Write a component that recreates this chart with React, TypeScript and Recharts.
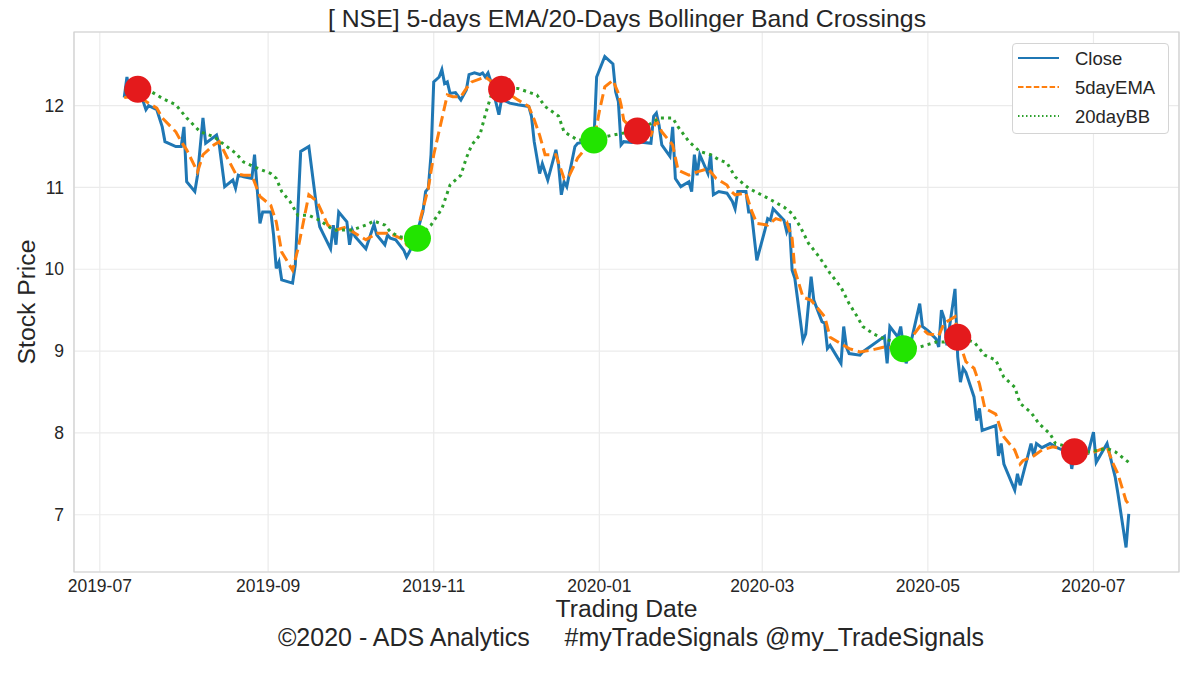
import React from 'react';
import {
  ComposedChart,
  Line,
  Scatter,
  XAxis,
  YAxis,
  CartesianGrid,
  Legend,
  ReferenceArea,
} from 'recharts';

type Pt = [string, number];

// Closing price
const closeSeries: Pt[] = [
  ['2019-07-10', 12.10], ['2019-07-11', 12.35], ['2019-07-12', 12.15], ['2019-07-15', 12.22], ['2019-07-16', 12.10],
  ['2019-07-17', 12.05], ['2019-07-18', 11.95], ['2019-07-19', 12.00], ['2019-07-22', 11.95], ['2019-07-24', 11.74],
  ['2019-07-25', 11.56], ['2019-07-29', 11.50], ['2019-07-31', 11.50], ['2019-08-01', 11.74], ['2019-08-02', 11.07],
  ['2019-08-05', 10.95], ['2019-08-06', 11.15], ['2019-08-08', 11.85], ['2019-08-09', 11.54], ['2019-08-13', 11.64],
  ['2019-08-14', 11.52], ['2019-08-16', 11.01], ['2019-08-19', 11.09], ['2019-08-20', 10.99], ['2019-08-21', 11.15],
  ['2019-08-23', 11.13], ['2019-08-26', 11.11], ['2019-08-27', 11.40], ['2019-08-28', 10.97], ['2019-08-29', 10.56],
  ['2019-08-30', 10.70], ['2019-09-02', 10.70], ['2019-09-03', 10.42], ['2019-09-04', 10.01], ['2019-09-05', 10.09],
  ['2019-09-06', 9.87], ['2019-09-10', 9.83], ['2019-09-11', 10.05], ['2019-09-13', 11.44], ['2019-09-16', 11.50],
  ['2019-09-19', 10.72], ['2019-09-20', 10.52], ['2019-09-24', 10.25], ['2019-09-25', 10.54], ['2019-09-26', 10.30],
  ['2019-09-27', 10.70], ['2019-09-30', 10.58], ['2019-10-01', 10.30], ['2019-10-02', 10.48], ['2019-10-03', 10.40],
  ['2019-10-07', 10.25], ['2019-10-10', 10.55], ['2019-10-11', 10.42], ['2019-10-14', 10.30], ['2019-10-15', 10.42],
  ['2019-10-16', 10.38], ['2019-10-18', 10.36], ['2019-10-21', 10.23], ['2019-10-22', 10.15], ['2019-10-23', 10.21],
  ['2019-10-25', 10.35], ['2019-10-28', 10.70], ['2019-10-29', 10.95], ['2019-10-30', 10.99], ['2019-10-31', 11.40],
  ['2019-11-01', 12.29], ['2019-11-03', 12.35], ['2019-11-04', 12.44], ['2019-11-05', 12.27], ['2019-11-06', 12.29],
  ['2019-11-07', 12.15], ['2019-11-09', 12.16], ['2019-11-11', 12.07], ['2019-11-13', 12.19], ['2019-11-14', 12.38],
  ['2019-11-16', 12.40], ['2019-11-18', 12.38], ['2019-11-19', 12.40], ['2019-11-20', 12.35], ['2019-11-21', 12.40],
  ['2019-11-22', 12.30], ['2019-11-25', 11.89], ['2019-11-26', 12.08], ['2019-11-29', 12.03], ['2019-12-02', 12.01],
  ['2019-12-06', 11.99], ['2019-12-07', 11.87], ['2019-12-08', 11.56], ['2019-12-10', 11.17], ['2019-12-11', 11.29],
  ['2019-12-13', 11.09], ['2019-12-16', 11.46], ['2019-12-17', 11.27], ['2019-12-18', 10.91], ['2019-12-19', 11.07],
  ['2019-12-20', 11.01], ['2019-12-23', 11.50], ['2019-12-24', 11.54], ['2019-12-30', 11.58], ['2019-12-31', 12.35],
  ['2020-01-03', 12.60], ['2020-01-06', 12.51], ['2020-01-07', 12.17], ['2020-01-08', 12.05], ['2020-01-09', 11.52],
  ['2020-01-10', 11.56], ['2020-01-13', 11.55], ['2020-01-15', 11.56], ['2020-01-20', 11.54], ['2020-01-21', 11.87],
  ['2020-01-22', 11.91], ['2020-01-23', 11.76], ['2020-01-24', 11.52], ['2020-01-27', 11.38], ['2020-01-28', 11.74],
  ['2020-01-29', 11.11], ['2020-01-31', 11.01], ['2020-02-03', 11.07], ['2020-02-04', 10.95], ['2020-02-05', 11.40],
  ['2020-02-06', 11.15], ['2020-02-07', 11.40], ['2020-02-10', 11.17], ['2020-02-11', 11.40], ['2020-02-12', 10.91],
  ['2020-02-14', 10.95], ['2020-02-17', 10.93], ['2020-02-19', 10.83], ['2020-02-20', 10.74], ['2020-02-21', 10.95],
  ['2020-02-24', 10.95], ['2020-02-25', 10.70], ['2020-02-26', 10.70], ['2020-02-28', 10.11], ['2020-03-02', 10.48],
  ['2020-03-03', 10.62], ['2020-03-04', 10.60], ['2020-03-05', 10.74], ['2020-03-09', 10.60], ['2020-03-10', 10.46],
  ['2020-03-11', 10.56], ['2020-03-12', 9.99], ['2020-03-13', 9.89], ['2020-03-16', 9.13], ['2020-03-17', 9.21],
  ['2020-03-19', 9.91], ['2020-03-20', 9.62], ['2020-03-23', 9.36], ['2020-03-24', 9.34], ['2020-03-25', 9.03],
  ['2020-03-26', 9.07], ['2020-03-30', 8.85], ['2020-03-31', 9.30], ['2020-04-01', 9.05], ['2020-04-02', 8.97],
  ['2020-04-06', 8.95], ['2020-04-07', 8.99], ['2020-04-15', 9.18], ['2020-04-16', 8.85], ['2020-04-17', 9.30],
  ['2020-04-20', 9.17], ['2020-04-21', 9.30], ['2020-04-22', 9.05], ['2020-04-23', 8.85], ['2020-04-28', 9.58],
  ['2020-04-29', 9.30], ['2020-05-01', 9.25], ['2020-05-04', 9.15], ['2020-05-05', 9.05], ['2020-05-06', 9.50],
  ['2020-05-07', 9.40], ['2020-05-08', 9.07], ['2020-05-11', 9.76], ['2020-05-12', 8.93], ['2020-05-13', 8.62],
  ['2020-05-14', 8.79], ['2020-05-15', 8.74], ['2020-05-18', 8.44], ['2020-05-19', 8.15], ['2020-05-20', 8.30],
  ['2020-05-21', 8.03], ['2020-05-26', 8.09], ['2020-05-27', 7.72], ['2020-05-28', 7.87], ['2020-05-29', 7.62],
  ['2020-06-02', 7.30], ['2020-06-03', 7.50], ['2020-06-04', 7.36], ['2020-06-08', 7.87], ['2020-06-09', 7.72],
  ['2020-06-10', 7.87], ['2020-06-12', 7.82], ['2020-06-15', 7.87], ['2020-06-17', 7.83], ['2020-06-19', 7.80],
  ['2020-06-22', 7.80], ['2020-06-23', 7.56], ['2020-06-24', 7.77], ['2020-06-29', 7.75], ['2020-07-01', 8.01],
  ['2020-07-02', 7.64], ['2020-07-06', 7.87], ['2020-07-09', 7.46], ['2020-07-10', 7.26], ['2020-07-13', 6.60],
  ['2020-07-14', 7.01],
];

// 5-day EMA
const emaSeries: Pt[] = [
  ['2019-07-10', 12.10], ['2019-07-15', 12.12], ['2019-07-19', 12.03], ['2019-07-22', 11.97], ['2019-07-24', 11.85],
  ['2019-07-29', 11.68], ['2019-07-31', 11.56], ['2019-08-02', 11.46], ['2019-08-06', 11.19], ['2019-08-08', 11.40],
  ['2019-08-12', 11.52], ['2019-08-14', 11.56], ['2019-08-17', 11.36], ['2019-08-20', 11.17], ['2019-08-23', 11.15],
  ['2019-08-26', 11.15], ['2019-08-29', 10.89], ['2019-09-02', 10.78], ['2019-09-04', 10.58], ['2019-09-06', 10.21],
  ['2019-09-10', 9.99], ['2019-09-12', 10.25], ['2019-09-16', 10.91], ['2019-09-19', 10.83], ['2019-09-23', 10.54],
  ['2019-09-26', 10.48], ['2019-09-30', 10.52], ['2019-10-02', 10.46], ['2019-10-07', 10.36], ['2019-10-11', 10.44],
  ['2019-10-15', 10.44], ['2019-10-17', 10.42], ['2019-10-21', 10.36], ['2019-10-22', 10.30], ['2019-10-25', 10.35],
  ['2019-10-30', 10.99], ['2019-11-01', 11.40], ['2019-11-06', 12.13], ['2019-11-08', 12.11], ['2019-11-11', 12.11],
  ['2019-11-13', 12.21], ['2019-11-15', 12.29], ['2019-11-20', 12.35], ['2019-11-26', 12.20], ['2019-12-02', 12.07],
  ['2019-12-06', 11.99], ['2019-12-08', 11.83], ['2019-12-10', 11.64], ['2019-12-12', 11.40], ['2019-12-16', 11.40],
  ['2019-12-19', 11.11], ['2019-12-21', 11.15], ['2019-12-24', 11.36], ['2019-12-27', 11.48], ['2019-12-30', 11.58],
  ['2020-01-01', 11.93], ['2020-01-03', 12.23], ['2020-01-06', 12.31], ['2020-01-08', 12.15], ['2020-01-09', 12.01],
  ['2020-01-10', 11.82], ['2020-01-13', 11.72], ['2020-01-15', 11.69], ['2020-01-20', 11.64], ['2020-01-22', 11.82],
  ['2020-01-24', 11.68], ['2020-01-28', 11.52], ['2020-01-30', 11.21], ['2020-02-03', 11.15], ['2020-02-06', 11.19],
  ['2020-02-10', 11.23], ['2020-02-13', 11.11], ['2020-02-17', 11.03], ['2020-02-18', 10.97], ['2020-02-20', 10.91],
  ['2020-02-24', 10.93], ['2020-02-26', 10.72], ['2020-02-28', 10.56], ['2020-03-03', 10.54], ['2020-03-06', 10.62],
  ['2020-03-10', 10.58], ['2020-03-12', 10.38], ['2020-03-13', 9.99], ['2020-03-16', 9.66], ['2020-03-19', 9.62],
  ['2020-03-20', 9.58], ['2020-03-24', 9.42], ['2020-03-26', 9.17], ['2020-03-30', 9.09], ['2020-04-02', 9.03],
  ['2020-04-06', 8.99], ['2020-04-10', 9.01], ['2020-04-15', 9.05], ['2020-04-22', 9.03], ['2020-04-28', 9.30],
  ['2020-05-01', 9.21], ['2020-05-05', 9.19], ['2020-05-07', 9.34], ['2020-05-11', 9.42], ['2020-05-12', 9.17],
  ['2020-05-15', 8.87], ['2020-05-18', 8.79], ['2020-05-20', 8.60], ['2020-05-22', 8.30], ['2020-05-26', 8.23],
  ['2020-05-28', 8.03], ['2020-05-29', 7.95], ['2020-06-02', 7.79], ['2020-06-04', 7.62], ['2020-06-05', 7.66],
  ['2020-06-09', 7.72], ['2020-06-12', 7.79], ['2020-06-16', 7.83], ['2020-06-24', 7.77], ['2020-06-30', 7.75],
  ['2020-07-03', 7.79], ['2020-07-06', 7.83], ['2020-07-08', 7.64], ['2020-07-10', 7.50], ['2020-07-13', 7.17],
  ['2020-07-14', 7.13],
];

// 20-day Bollinger mid band
const bbSeries: Pt[] = [
  ['2019-07-10', 12.19], ['2019-07-19', 12.19], ['2019-07-24', 12.09], ['2019-07-29', 12.01], ['2019-08-02', 11.85],
  ['2019-08-07', 11.68], ['2019-08-12', 11.62], ['2019-08-16', 11.52], ['2019-08-20', 11.42], ['2019-08-23', 11.31],
  ['2019-08-27', 11.25], ['2019-09-02', 11.17], ['2019-09-04', 11.11], ['2019-09-06', 10.95], ['2019-09-09', 10.83],
  ['2019-09-12', 10.66], ['2019-09-16', 10.66], ['2019-09-20', 10.60], ['2019-09-25', 10.48], ['2019-10-02', 10.48],
  ['2019-10-07', 10.54], ['2019-10-10', 10.59], ['2019-10-14', 10.54], ['2019-10-16', 10.46], ['2019-10-19', 10.40],
  ['2019-10-23', 10.38], ['2019-10-26', 10.38], ['2019-10-31', 10.54], ['2019-11-04', 10.74], ['2019-11-07', 11.03],
  ['2019-11-11', 11.15], ['2019-11-13', 11.36], ['2019-11-15', 11.52], ['2019-11-18', 11.64], ['2019-11-20', 11.89],
  ['2019-11-22', 12.11], ['2019-11-26', 12.20], ['2019-12-02', 12.21], ['2019-12-09', 12.13], ['2019-12-12', 11.99],
  ['2019-12-17', 11.87], ['2019-12-19', 11.68], ['2019-12-24', 11.58], ['2019-12-30', 11.58], ['2020-01-03', 11.62],
  ['2020-01-09', 11.66], ['2020-01-15', 11.69], ['2020-01-21', 11.80], ['2020-01-23', 11.85], ['2020-01-28', 11.85],
  ['2020-01-30', 11.74], ['2020-02-03', 11.56], ['2020-02-07', 11.44], ['2020-02-11', 11.40], ['2020-02-14', 11.34],
  ['2020-02-17', 11.30], ['2020-02-20', 11.13], ['2020-02-25', 10.99], ['2020-03-03', 10.87], ['2020-03-09', 10.76],
  ['2020-03-12', 10.68], ['2020-03-15', 10.52], ['2020-03-18', 10.32], ['2020-03-22', 10.15], ['2020-03-26', 9.95],
  ['2020-03-30', 9.78], ['2020-04-02', 9.58], ['2020-04-05', 9.42], ['2020-04-07', 9.30], ['2020-04-11', 9.21],
  ['2020-04-15', 9.15], ['2020-04-20', 9.10], ['2020-04-22', 9.03], ['2020-04-28', 9.05], ['2020-05-04', 9.11],
  ['2020-05-07', 9.11], ['2020-05-11', 9.15], ['2020-05-12', 9.17], ['2020-05-18', 9.11], ['2020-05-22', 8.95],
  ['2020-05-26', 8.89], ['2020-05-29', 8.68], ['2020-06-02', 8.56], ['2020-06-04', 8.36], ['2020-06-08', 8.25],
  ['2020-06-11', 8.11], ['2020-06-15', 7.99], ['2020-06-17', 7.87], ['2020-06-22', 7.83], ['2020-06-24', 7.77],
  ['2020-06-30', 7.77], ['2020-07-06', 7.81], ['2020-07-09', 7.77], ['2020-07-14', 7.64],
];

// Crossing signals
const sellSignals: Pt[] = [
  ['2019-07-15', 12.20], ['2019-11-26', 12.20], ['2020-01-15', 11.69], ['2020-05-12', 9.17], ['2020-06-24', 7.77],
];
const buySignals: Pt[] = [
  ['2019-10-26', 10.38], ['2019-12-30', 11.58], ['2020-04-22', 9.03],
];

const xTickMonths = ['2019-07', '2019-09', '2019-11', '2020-01', '2020-03', '2020-05', '2020-07'];
const yTickValues = [7, 8, 9, 10, 11, 12];

const TITLE = '[ NSE] 5-days EMA/20-Days Bollinger Band Crossings';
const X_LABEL = 'Trading Date';
const Y_LABEL = 'Stock Price';
const FOOTER = '\u00a92020 - ADS Analytics     #myTradeSignals @my_TradeSignals';

const toPts = (arr: Pt[]) => arr.map(([d, v]) => ({ t: Date.parse(d), v }));
const closePts = toPts(closeSeries);
const emaPts = toPts(emaSeries);
const bbPts = toPts(bbSeries);
const sellPts = toPts(sellSignals);
const buyPts = toPts(buySignals);

const xTicks = xTickMonths.map((m) => Date.parse(m + '-01'));
const tMin = closePts[0].t;
const tMax = closePts[closePts.length - 1].t;
const xPad = (tMax - tMin) * 0.05;
const xDomain: [number, number] = [tMin - xPad, tMax + xPad];
const vals = closePts.map((p) => p.v);
const vMin = Math.min(...vals);
const vMax = Math.max(...vals);
const yPad = (vMax - vMin) * 0.05;
const yDomain: [number, number] = [vMin - yPad, vMax + yPad];

const FONT = '"Liberation Sans", Arial, Helvetica, sans-serif';
const TEXT = '#262626';

const fmtMonth = (t: number) => {
  const d = new Date(t);
  const m = d.getUTCMonth() + 1;
  return `${d.getUTCFullYear()}-${m < 10 ? '0' + m : m}`;
};

const legendItems = [
  { label: 'Close', color: '#1f77b4', dash: undefined as string | undefined },
  { label: '5dayEMA', color: '#ff7f0e', dash: '5.5 2.4' },
  { label: '20dayBB', color: '#2ca02c', dash: '1.5 2.5' },
];

const renderLegend = () => (
  <div
    style={{
      width: 157,
      height: 91,
      boxSizing: 'border-box',
      border: '1px solid #d4d4d4',
      borderRadius: 4,
      background: '#ffffff',
    }}
  >
    <svg width={155} height={89} style={{ display: 'block' }}>
      {legendItems.map((it, i) => {
        const cy = 14 + i * 29;
        return (
          <g key={it.label}>
            <line x1={5} x2={46} y1={cy} y2={cy} stroke={it.color} strokeWidth={1.8} strokeDasharray={it.dash} />
            <text x={62} y={cy + 6.5} fontFamily={FONT} fontSize={18.5} fill={TEXT}>
              {it.label}
            </text>
          </g>
        );
      })}
    </svg>
  </div>
);

const dot = (color: string) => (props: any) => {
  const { cx, cy } = props;
  if (cx == null || cy == null) return <g />;
  return <circle cx={cx} cy={cy} r={13.5} fill={color} />;
};

export default function App() {
  return (
    <div
      style={{
        position: 'absolute',
        left: 0,
        top: 0,
        width: 1200,
        height: 673,
        background: '#ffffff',
        fontFamily: FONT,
      }}
    >
      <ComposedChart width={1200} height={673} margin={{ top: 32, right: 21, bottom: 71, left: 0 }}>
        <CartesianGrid stroke="#ebebeb" strokeWidth={1.2} />
        <XAxis
          type="number"
          dataKey="t"
          domain={xDomain}
          ticks={xTicks}
          tickFormatter={fmtMonth}
          allowDataOverflow
          axisLine={false}
          tickLine={false}
          tickSize={0}
          tickMargin={8}
          height={30}
          tick={{ fill: TEXT, fontSize: 17.5, fontFamily: FONT }}
        />
        <YAxis
          type="number"
          dataKey="v"
          domain={yDomain}
          ticks={yTickValues}
          allowDataOverflow
          axisLine={false}
          tickLine={false}
          tickSize={0}
          tickMargin={10}
          width={74}
          tick={{ fill: TEXT, fontSize: 17.5, fontFamily: FONT }}
        />
        <ReferenceArea
          x1={xDomain[0]}
          x2={xDomain[1]}
          y1={yDomain[0]}
          y2={yDomain[1]}
          fill="none"
          fillOpacity={0}
          stroke="#d0d0d0"
          strokeWidth={1.2}
          ifOverflow="visible"
        />
        <Line
          data={closePts}
          dataKey="v"
          name="Close"
          type="linear"
          stroke="#1f77b4"
          strokeWidth={3}
          dot={false}
          activeDot={false}
          isAnimationActive={false}
        />
        <Line
          data={emaPts}
          dataKey="v"
          name="5dayEMA"
          type="linear"
          stroke="#ff7f0e"
          strokeWidth={3}
          strokeDasharray="11 5"
          dot={false}
          activeDot={false}
          isAnimationActive={false}
        />
        <Line
          data={bbPts}
          dataKey="v"
          name="20dayBB"
          type="linear"
          stroke="#2ca02c"
          strokeWidth={3}
          strokeDasharray="3 4.2"
          dot={false}
          activeDot={false}
          isAnimationActive={false}
        />
        <Scatter data={sellPts} dataKey="v" name="sell" legendType="none" shape={dot('#e41a1c')} isAnimationActive={false} />
        <Scatter data={buyPts} dataKey="v" name="buy" legendType="none" shape={dot('#22e400')} isAnimationActive={false} />
        <Legend
          layout="vertical"
          align="center"
          verticalAlign="middle"
          content={renderLegend}
          wrapperStyle={{ left: 1012, top: 43, right: 'auto', bottom: 'auto', width: 157, height: 91 }}
        />
      </ComposedChart>
      <svg
        width={1200}
        height={673}
        style={{ position: 'absolute', left: 0, top: 0, pointerEvents: 'none' }}
      >
        <text x={627} y={27} textAnchor="middle" fontFamily={FONT} fontSize={24.8} fill={TEXT}>
          {TITLE}
        </text>
        <text x={626.5} y={617} textAnchor="middle" fontFamily={FONT} fontSize={24.7} fill={TEXT}>
          {X_LABEL}
        </text>
        <text
          x={35}
          y={302}
          textAnchor="middle"
          fontFamily={FONT}
          fontSize={24.7}
          fill={TEXT}
          transform="rotate(-90 35 302)"
        >
          {Y_LABEL}
        </text>
        <text
          x={631}
          y={646}
          textAnchor="middle"
          fontFamily={FONT}
          fontSize={25}
          fill={TEXT}
          style={{ whiteSpace: 'pre' }}
        >
          {FOOTER}
        </text>
      </svg>
    </div>
  );
}
